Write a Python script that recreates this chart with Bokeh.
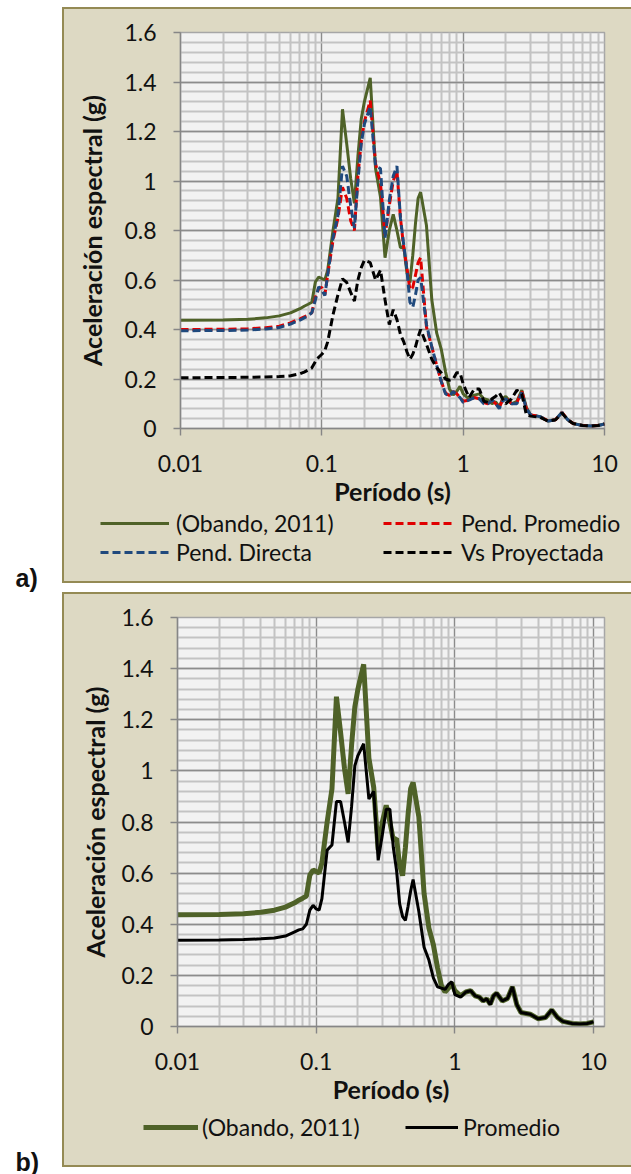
from bokeh.plotting import figure
from bokeh.models import (ColumnDataSource, Range1d, FixedTicker, Legend, LegendItem,
                          Label, Spacer)
from bokeh.layouts import row, column
from bokeh.embed import file_html
from bokeh.resources import INLINE

periods = [0.01, 0.02, 0.03, 0.04, 0.05, 0.06, 0.07, 0.075, 0.08, 0.085,
           0.09, 0.095, 0.10, 0.105, 0.11, 0.12, 0.13, 0.14, 0.15, 0.16,
           0.17, 0.18, 0.19, 0.20, 0.22, 0.24, 0.26, 0.28, 0.30, 0.32,
           0.34, 0.36, 0.38, 0.40, 0.42, 0.44, 0.46, 0.48, 0.50, 0.55,
           0.60, 0.65, 0.70, 0.75, 0.80, 0.85, 0.90, 0.95, 1.0, 1.1,
           1.2, 1.3, 1.4, 1.5, 1.6, 1.7, 1.8, 1.9, 2.0, 2.2,
           2.4, 2.6, 2.8, 3.0, 3.5, 4.0, 4.5, 5.0, 5.5, 6.0,
           7.0, 8.0, 9.0, 10.0]

obando = [.437, .438, .441, .447, .455, .467, .484, .494, .502, .510,
          .592, .612, .606, .600, .640, .800, .930, 1.290, 1.150, 1.010,
          .910, 1.100, 1.250, 1.320, 1.417, 1.050, .935, .690, .800, .865,
          .800, .730, .735, .630, .590, .700, .830, .930, .955, .820,
          .520, .385, .320, .230, .160, .135, .150, .170, .140, .120,
          .135, .140, .120, .115, .100, .108, .088, .120, .130, .100,
          .110, .155, .085, .055, .048, .030, .035, .065, .035, .020,
          .012, .010, .012, .018]

pend_promedio = [.400, .401, .403, .407, .413, .427, .443, .451, .457, .468,
                 .530, .565, .570, .540, .620, .760, .850, .975, .930, .840,
                 .800, 1.020, 1.160, 1.240, 1.325, 1.070, .990, .780, .900, 1.000,
                 1.040, .850, .730, .650, .560, .570, .620, .670, .690, .410,
                 .330, .255, .190, .143, .133, .150, .140, .125, .110, .115,
                 .125, .120, .105, .100, .115, .100, .085, .115, .125, .100,
                 .105, .150, .080, .055, .048, .030, .035, .065, .035, .020,
                 .012, .010, .012, .018]

pend_directa = [.395, .396, .398, .402, .408, .422, .438, .447, .455, .468,
                .520, .572, .560, .537, .620, .770, .860, 1.060, 1.020, .900,
                .810, 1.000, 1.150, 1.230, 1.300, 1.060, 1.050, .770, .920, 1.020,
                1.060, .850, .740, .640, .510, .490, .540, .600, .610, .420,
                .330, .255, .190, .140, .130, .150, .135, .125, .105, .115,
                .125, .120, .100, .100, .115, .100, .080, .110, .120, .100,
                .100, .145, .080, .055, .048, .030, .035, .065, .035, .020,
                .012, .010, .012, .018]

vs_proyectada = [.205, .206, .207, .208, .210, .213, .221, .228, .236, .245,
                 .270, .288, .300, .315, .350, .460, .540, .605, .590, .550,
                 .515, .600, .650, .680, .670, .600, .640, .520, .420, .480,
                 .440, .380, .350, .310, .280, .300, .330, .370, .400, .340,
                 .280, .245, .225, .200, .195, .200, .225, .225, .180, .125,
                 .160, .160, .110, .105, .120, .130, .145, .120, .100, .120,
                 .155, .140, .055, .050, .045, .030, .035, .063, .035, .020,
                 .012, .010, .012, .018]

promedio = [.337, .338, .340, .343, .346, .354, .370, .378, .382, .400,
            .455, .474, .460, .455, .500, .690, .710, .880, .880, .800,
            .720, .860, 1.020, 1.060, 1.106, .890, .920, .650, .750, .850,
            .850, .700, .610, .480, .430, .415, .470, .530, .575, .450,
            .310, .260, .190, .155, .150, .145, .165, .175, .125, .115,
            .135, .140, .120, .115, .100, .108, .085, .120, .130, .100,
            .110, .155, .085, .055, .048, .030, .035, .065, .035, .020,
            .012, .010, .012, .018]

x_ticks = [0.01, 0.1, 1.0, 10.0]
x_tick_labels = ["0.01", "0.1", "1", "10"]
x_minor = [k * d for d in (0.01, 0.1, 1.0) for k in range(2, 10)]
y_ticks = [0.0, 0.2, 0.4, 0.6, 0.8, 1.0, 1.2, 1.4, 1.6]
y_tick_labels = ["0", "0.2", "0.4", "0.6", "0.8", "1", "1.2", "1.4", "1.6"]
y_minor = [round(0.04 * i, 2) for i in range(41)]

FONT = "Lato"
BEIGE = "#DDD9C3"
EDGE = "#948A54"
GREEN = "#4F6228"
RED = "#E00000"
BLUE = "#1F497D"
TXT = "#111111"
W = 567

src = ColumnDataSource(dict(t=periods, obando=obando, prom=pend_promedio,
                            directa=pend_directa, vs=vs_proyectada, promedio=promedio))


def make_panel(h, bl, br, bt, bb, x_end, ylab_standoff):
    p = figure(width=W, height=h, x_axis_type="log",
               x_range=Range1d(0.01, x_end), y_range=Range1d(0, 1.6),
               output_backend="svg", toolbar_location=None,
               min_border_left=bl, min_border_right=br,
               min_border_top=bt, min_border_bottom=bb)
    p.background_fill_color = "#F2F2F2"
    p.border_fill_color = BEIGE
    p.outline_line_color = "#A6A6A6"
    p.outline_line_width = 1.5
    p.xaxis.ticker = FixedTicker(ticks=x_ticks, minor_ticks=x_minor)
    p.yaxis.ticker = FixedTicker(ticks=y_ticks, minor_ticks=y_minor)
    p.xaxis.major_label_overrides = dict(zip(x_ticks, x_tick_labels))
    p.yaxis.major_label_overrides = dict(zip(y_ticks, y_tick_labels))
    for g in (p.xgrid, p.ygrid):
        g.grid_line_color = "#8C8C8C"
        g.grid_line_width = 1.4
        g.minor_grid_line_color = "#C3C3C3"
        g.minor_grid_line_width = 2
    for ax in (p.xaxis, p.yaxis):
        ax.axis_line_color = "#868686"
        ax.axis_line_width = 1.4
        ax.major_tick_line_color = "#868686"
        ax.major_tick_line_width = 1.4
        ax.major_tick_out = 7
        ax.major_tick_in = 0
        ax.minor_tick_line_color = None
        ax.major_label_text_font = FONT
        ax.major_label_text_font_size = "23px"
        ax.major_label_text_color = TXT
        ax.axis_label_text_font = FONT
        ax.axis_label_text_font_size = "25px"
        ax.axis_label_text_font_style = "bold"
        ax.axis_label_text_color = TXT
    p.xaxis.major_label_standoff = 19
    p.xaxis.axis_label_standoff = 1
    p.yaxis.major_label_standoff = 17
    p.yaxis.axis_label_standoff = ylab_standoff
    p.xaxis.axis_label = "Período (s)"
    p.yaxis.axis_label = "Aceleración espectral (g)"
    return p


def legend_fig(h):
    # the legend sample lines use the real columns; the x range is set past the
    # data so that only the legend swatches are visible in this strip
    f = figure(width=W, height=h, x_range=Range1d(100, 101), y_range=Range1d(0, 1),
               x_axis_location=None, y_axis_location=None,
               output_backend="svg", toolbar_location=None,
               min_border_left=0, min_border_right=0, min_border_top=0, min_border_bottom=0)
    f.outline_line_color = None
    f.background_fill_color = BEIGE
    f.border_fill_color = BEIGE
    f.grid.visible = False
    return f


def add_legend(f, label, r, vx, vy, gw, standoff):
    leg = Legend(items=[LegendItem(label=label, renderers=[r])],
                 location=(vx, vy), orientation="horizontal",
                 padding=0, margin=0, spacing=0,
                 glyph_width=gw, glyph_height=28, label_height=28,
                 label_standoff=standoff,
                 background_fill_alpha=0, border_line_color=None,
                 label_text_font=FONT, label_text_font_size="23px",
                 label_text_color=TXT)
    f.add_layout(leg)


# Panel a
pa = make_panel(500, 116, 27, 23, 81, 10.0, 14)
pa.line("t", "obando", source=src, line_color=GREEN, line_width=3)
pa.line("t", "prom", source=src, line_color=RED, line_width=3, line_dash="8 4")
pa.line("t", "directa", source=src, line_color=BLUE, line_width=3, line_dash="8 4")
pa.line("t", "vs", source=src, line_color="black", line_width=3, line_dash="8 4")

la = legend_fig(72)
lg_g = la.line("t", "obando", source=src, line_color=GREEN, line_width=3)
lg_r = la.line("t", "prom", source=src, line_color=RED, line_width=3, line_dash="8 4")
lg_b = la.line("t", "directa", source=src, line_color=BLUE, line_width=3, line_dash="8 4")
lg_k = la.line("t", "vs", source=src, line_color="black", line_width=3, line_dash="8 4")
add_legend(la, "(Obando, 2011)", lg_g, 36, 44, 69, 7)
add_legend(la, "Pend. Promedio", lg_r, 319, 44, 71, 7)
add_legend(la, "Pend. Directa", lg_b, 36, 15, 69, 7)
add_legend(la, "Vs Proyectada", lg_k, 319, 15, 71, 7)

# Panel b
pb = make_panel(513, 113, 27, 23, 81, 12.0, 8)
pb.line("t", "obando", source=src, line_color=GREEN, line_width=5)
pb.line("t", "promedio", source=src, line_color="black", line_width=3)

lb = legend_fig(58)
lgb_g = lb.line("t", "obando", source=src, line_color=GREEN, line_width=5)
lgb_k = lb.line("t", "promedio", source=src, line_color="black", line_width=3)
add_legend(lb, "(Obando, 2011)", lgb_g, 79, 24, 55, 4)
add_legend(lb, "Promedio", lgb_k, 341, 24, 53, 5)

border = {"border-left": "2px solid " + EDGE, "border-top": "2px solid " + EDGE,
          "border-bottom": "2px solid " + EDGE, "background-color": BEIGE}
panel_a = column(pa, row(la), styles=border)
panel_b = column(pb, row(lb), styles=border)

# Panel letters
lab = figure(width=62, height=1174, x_range=Range1d(0, 1), y_range=Range1d(0, 1),
             x_axis_location=None, y_axis_location=None,
             output_backend="svg", toolbar_location=None,
             min_border_left=0, min_border_right=0, min_border_top=0, min_border_bottom=0)
lab.outline_line_color = None
lab.background_fill_color = "white"
lab.border_fill_color = "white"
lab.grid.visible = False
for txt, yy in (("a)", 597), ("b)", 13)):
    lab.add_layout(Label(x=15, y=yy, x_units="screen", y_units="screen", text=txt,
                         text_font="Liberation Sans", text_font_style="bold",
                         text_font_size="25px", text_baseline="middle", text_color=TXT))

layout = row(lab, column(Spacer(width=W, height=7), panel_a,
                         Spacer(width=W, height=9), panel_b))
open("out.html", "w").write(file_html(layout, INLINE))
